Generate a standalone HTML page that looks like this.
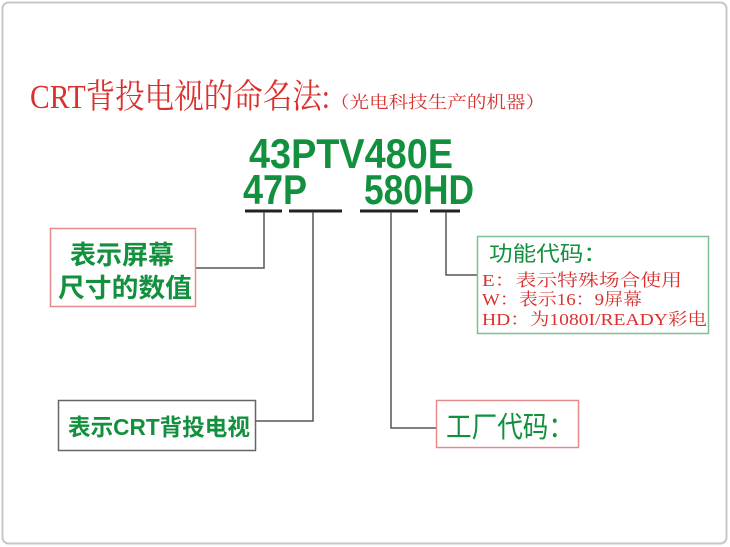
<!DOCTYPE html>
<html><head><meta charset="utf-8"><style>
body{margin:0;background:#fff}
svg{display:block}
</style></head><body>
<svg width="730" height="547" xmlns="http://www.w3.org/2000/svg" font-family="Liberation Sans, Noto Sans CJK SC, sans-serif">
<rect x="0" y="0" width="730" height="547" fill="#fff"/>
<rect x="2.5" y="2.5" width="724" height="541" rx="6" fill="none" stroke="#c8c8c8" stroke-width="2"/>
<text x="30" y="108" font-family="Liberation Serif, Noto Serif CJK SC, serif" font-size="34" fill="#d8312e" textLength="300" lengthAdjust="spacingAndGlyphs">CRT背投电视的命名法:</text>
<text x="330" y="108" font-size="17" fill="#d8312e" font-family="Liberation Serif, Noto Serif CJK SC, serif" textLength="215" lengthAdjust="spacingAndGlyphs">（光电科技生产的机器）</text>
<g fill="#12903e" font-weight="bold" font-size="42">
<text x="249" y="168" textLength="204" lengthAdjust="spacingAndGlyphs">43PTV480E</text>
<text x="243" y="204" textLength="64" lengthAdjust="spacingAndGlyphs">47P</text>
<text x="364" y="204" textLength="110" lengthAdjust="spacingAndGlyphs">580HD</text>
</g>
<g stroke="#222" stroke-width="3">
<line x1="245" y1="211" x2="282" y2="211"/><line x1="289" y1="211" x2="342" y2="211"/>
<line x1="360" y1="211" x2="418" y2="211"/><line x1="430" y1="211" x2="460" y2="211"/>
</g>
<g stroke="#555" stroke-width="1.5" fill="none">
<polyline points="264,212 264,268 195,268"/>
<polyline points="313,212 313,421 255,421"/>
<polyline points="391,212 391,428 436,428"/>
<polyline points="446,212 446,275 477,275"/>
</g>
<rect x="50.5" y="228.5" width="145" height="78" fill="#fff" stroke="#e58b8b" stroke-width="1.5"/>
<g fill="#12903e" font-weight="bold" font-size="26">
<text x="70" y="264">表示屏幕</text>
<text x="58" y="297" textLength="134" lengthAdjust="spacingAndGlyphs">尺寸的数值</text>
</g>
<rect x="58.5" y="400.5" width="197" height="50" fill="#fff" stroke="#666" stroke-width="1.5"/>
<text x="68" y="435" fill="#12903e" font-weight="bold" font-size="23" textLength="182" lengthAdjust="spacingAndGlyphs">表示CRT背投电视</text>
<rect x="436.5" y="400.5" width="142" height="47" fill="#fff" stroke="#e58b8b" stroke-width="1.5"/>
<text x="446" y="437" fill="#12903e" font-size="29" textLength="128" lengthAdjust="spacingAndGlyphs">工厂代码：</text>
<rect x="477.5" y="236.5" width="231" height="97" fill="#fff" stroke="#7fbf95" stroke-width="1.5"/>
<text x="489" y="261" fill="#12903e" font-size="21" textLength="118" lengthAdjust="spacingAndGlyphs">功能代码：</text>
<g fill="#d8312e" font-size="17" font-family="Liberation Serif, Noto Serif CJK SC, serif">
<text x="482" y="286" textLength="200" lengthAdjust="spacingAndGlyphs">E：表示特殊场合使用</text>
<text x="482" y="305" textLength="160" lengthAdjust="spacingAndGlyphs">W：表示16：9屏幕</text>
<text x="482" y="325" textLength="225" lengthAdjust="spacingAndGlyphs">HD：为1080I/READY彩电</text>
</g>
</svg>
</body></html>
